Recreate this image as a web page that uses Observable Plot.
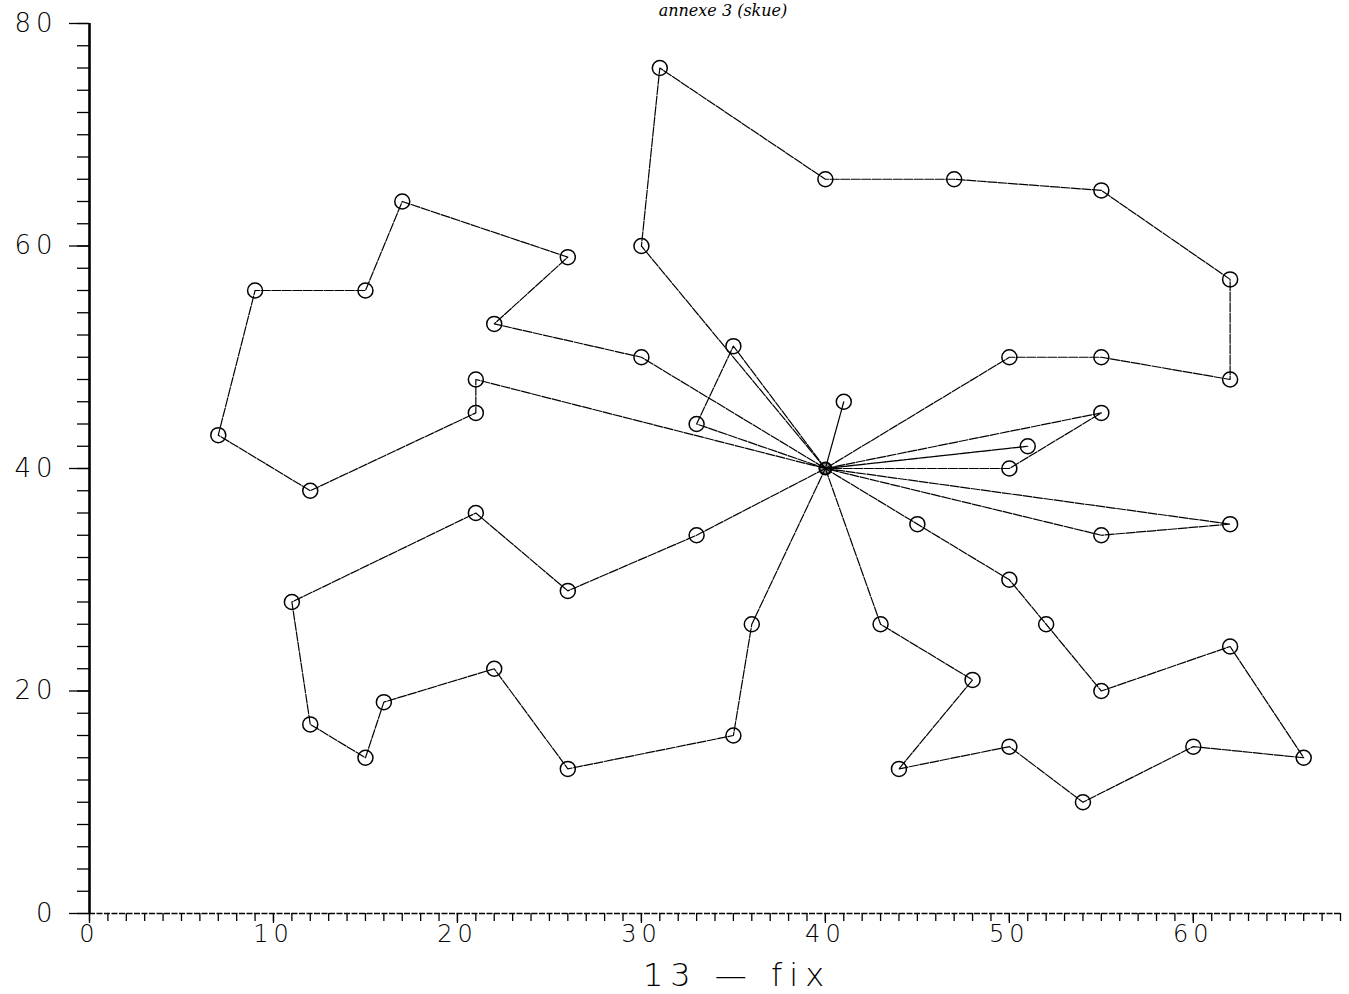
<!DOCTYPE html>
<html>
<head>
<meta charset="utf-8">
<script src="https://cdn.jsdelivr.net/npm/d3@7"></script>
<script src="https://cdn.jsdelivr.net/npm/@observablehq/plot@0.6"></script>
<style>
  body { margin: 0; background: #fff; }
  svg { display: block; }
</style>
</head>
<body>
<div id="chart"></div>
<script>
// Depot (centre of the star)
const depotX = 40;
const depotY = 40;

// Routes: customers visited in order, each route starts and ends at the depot
const routeNames = ["A", "B", "C", "D", "E", "F", "G", "H", "I"];
const routeX = [
  [30, 31, 40, 47, 55, 62, 62, 55, 50],
  [21, 21, 12, 7, 9, 15, 17, 26, 22, 30],
  [35, 33],
  [33, 26, 21, 11, 12, 15, 16, 22, 26, 35, 36],
  [41],
  [43, 48, 44, 50, 54, 60, 66, 62, 55, 52, 50, 45],
  [51],
  [55, 50],
  [62, 55]
];
const routeY = [
  [60, 76, 66, 66, 65, 57, 48, 50, 50],
  [48, 45, 38, 43, 56, 56, 64, 59, 53, 50],
  [51, 44],
  [34, 29, 36, 28, 17, 14, 19, 22, 13, 16, 26],
  [46],
  [26, 21, 13, 15, 10, 15, 14, 24, 20, 26, 30, 35],
  [42],
  [45, 40],
  [35, 34]
];

// Axis ticks and labels
const xMinorTicks = d3.range(0, 69, 1);
const xMajorTicks = [0, 10, 20, 30, 40, 50, 60];
const yMinorTicks = d3.range(0, 81, 2);
const yMajorTicks = [0, 20, 40, 60, 80];
const xLabel = "13 — fix";
const noteText = "annexe 3 (skue)";

// Build tables
const pathRows = [];
const customerRows = [];
routeNames.forEach((name, i) => {
  pathRows.push({route: name, x: depotX, y: depotY});
  routeX[i].forEach((x, j) => {
    pathRows.push({route: name, x, y: routeY[i][j]});
    customerRows.push({route: name, x, y: routeY[i][j]});
  });
  pathRows.push({route: name, x: depotX, y: depotY});
});

const font = "DejaVu Sans";

const chart = Plot.plot({
  width: 1349,
  height: 994,
  marginLeft: 89,
  marginRight: 9,
  marginTop: 23,
  marginBottom: 81,
  style: {fontFamily: font, background: "#fff", color: "#000"},
  x: {domain: [0, 68], label: null},
  y: {domain: [0, 80], label: null},
  marks: [
    // minor ticks
    Plot.axisX(xMinorTicks, {tickSize: 8, tickFormat: () => "", stroke: "#000", strokeWidth: 1.3}),
    Plot.axisY(yMinorTicks, {tickSize: 12, tickFormat: () => "", stroke: "#000", strokeWidth: 1.3}),
    // major ticks with labels
    Plot.axisX(xMajorTicks, {tickSize: 10, tickPadding: 1, fontSize: 24, stroke: "#000", strokeWidth: 1.3, fill: "#000"}),
    Plot.axisY(yMajorTicks, {tickSize: 20, tickPadding: 12, fontSize: 26, stroke: "#000", strokeWidth: 1.3, fill: "#000"}),
    // axis lines
    Plot.ruleX([0], {y1: 0, y2: 80, stroke: "#000", strokeWidth: 2.6}),
    Plot.ruleY([0], {x1: 0, x2: 68, stroke: "#000", strokeWidth: 1.4, strokeDasharray: "6,1.5"}),
    // routes
    Plot.line(pathRows, {x: "x", y: "y", z: "route", stroke: "#000", strokeWidth: 1.2, strokeDasharray: "9,1.5"}),
    // customers
    Plot.dot(customerRows, {x: "x", y: "y", r: 7.5, stroke: "#000", strokeWidth: 1.5, fill: "none"}),
    // depot
    Plot.dot([{x: depotX, y: depotY}], {x: "x", y: "y", r: 6, stroke: "#000", strokeWidth: 2, fill: "#000", fillOpacity: 0.4}),
    // x axis title
    Plot.text([xLabel], {frameAnchor: "bottom", lineAnchor: "bottom", dy: 72, dx: 22, fontSize: 32, fill: "#000", fontWeight: 200, className: "xtitle"}),
    // handwritten note at the top
    Plot.text([noteText], {frameAnchor: "top", lineAnchor: "top", dy: -19, dx: 8, fontSize: 16, fill: "#000", fontStyle: "italic", fontFamily: "DejaVu Serif"})
  ]
});

// widen the digit glyphs like the original plotter font
d3.select(chart).selectAll("g[aria-label='x-axis tick label'] text, g[aria-label='y-axis tick label'] text")
  .attr("letter-spacing", "5").attr("font-weight", 200);
d3.select(chart).selectAll(".xtitle text").attr("letter-spacing", "7");

document.getElementById("chart").appendChild(chart);
</script>
</body>
</html>
